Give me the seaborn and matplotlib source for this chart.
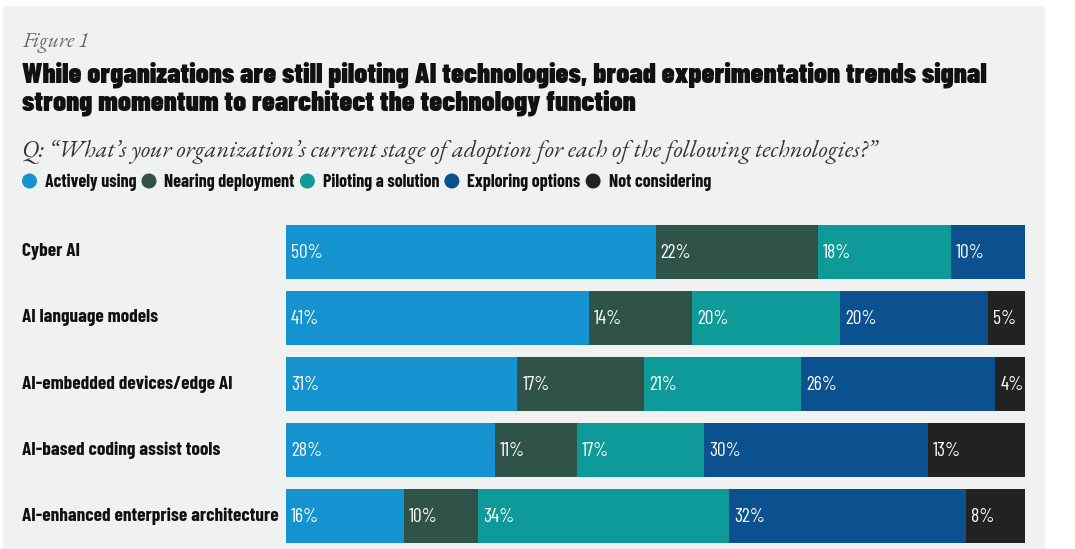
import pandas as pd
import seaborn as sns
import matplotlib.pyplot as plt
from matplotlib.patches import Rectangle, Ellipse
from matplotlib.font_manager import FontProperties
from matplotlib.transforms import blended_transform_factory

techs = ['Cyber AI', 'AI language models', 'AI-embedded devices/edge AI',
         'AI-based coding assist tools', 'AI-enhanced enterprise architecture']
stages = ['Actively using', 'Nearing deployment', 'Piloting a solution',
          'Exploring options', 'Not considering']
actively = [50, 41, 31, 28, 16]
nearing = [22, 14, 17, 11, 10]
piloting = [18, 20, 21, 17, 34]
exploring = [10, 20, 26, 30, 32]
not_considering = [0, 5, 4, 13, 8]
colors = ['#1593d0', '#2f5249', '#0e9a98', '#0b5190', '#222222']

df = pd.DataFrame({
    stages[0]: actively,
    stages[1]: nearing,
    stages[2]: piloting,
    stages[3]: exploring,
    stages[4]: not_considering,
}, index=techs)

# bars fill the full width, so scale each row to its own total
shares = df.div(df.sum(axis=1), axis=0) * 100
cum = shares.cumsum(axis=1)

sns.set_style('white')

heavy = FontProperties(family=['Barlow Condensed', 'DejaVu Sans'], weight=900, stretch='condensed')
bold = FontProperties(family=['Barlow Condensed', 'DejaVu Sans'], weight=700, stretch='condensed')
light = FontProperties(family=['Barlow Condensed', 'DejaVu Sans'], weight=400, stretch='condensed', size=14)
serif = FontProperties(family=['EB Garamond', 'Cormorant Garamond', 'Liberation Serif', 'DejaVu Serif'],
                       style='italic')

W, H = 1075, 549
fig = plt.figure(figsize=(W / 100, H / 100), dpi=100)
fig.patch.set_facecolor('white')
fig.patches.append(Rectangle((3 / W, 0), 1042 / W, 1 - 6 / H, transform=fig.transFigure,
                             facecolor='#f0f1f1', edgecolor='none', zorder=-10))
renderer = fig.canvas.get_renderer()


def fit(t, target):
    # scale the font so the text spans target pixels
    w = t.get_window_extent(renderer).width
    t.set_fontsize(t.get_fontsize() * target / w)
    return t


ax = fig.add_axes([286 / W, 0, 739 / W, 330 / H])
ax.patch.set_alpha(0)

for k in reversed(range(len(stages))):
    sns.barplot(x=cum[stages[k]].values, y=techs, color=colors[k], orient='h',
                width=0.82, saturation=1, linewidth=0, ax=ax)

for i, tech in enumerate(techs):
    for k, st in enumerate(stages):
        v = df.loc[tech, st]
        if v == 0:
            continue
        ax.annotate(f'{v}%', xy=(cum.loc[tech, st] - shares.loc[tech, st], i),
                    xytext=(5, -1), textcoords='offset pixels', ha='left', va='center',
                    color='white', fontproperties=light)

ax.set_xlim(0, 100)
ax.set_ylim(4.5, -0.5)
ax.axis('off')

tr = blended_transform_factory(fig.transFigure, ax.transData)
cat_texts = [ax.text(22 / W, i, tech, transform=tr, ha='left', va='center',
                     fontproperties=bold, fontsize=13, color='#111111')
             for i, tech in enumerate(techs)]
fit(cat_texts[-1], 254)
for t in cat_texts[:-1]:
    t.set_fontsize(cat_texts[-1].get_fontsize())

fit(fig.text(22 / W, 1 - 47 / H, 'Figure 1', ha='left', va='baseline', fontproperties=serif,
             fontsize=14, color='#6a6a6a'), 67)
t1 = fit(fig.text(22 / W, 1 - 82 / H,
                  'While organizations are still piloting AI technologies, broad experimentation trends signal',
                  ha='left', va='baseline', fontproperties=heavy, fontsize=20, color='#111111'), 965)
fig.text(22 / W, 1 - 111 / H, 'strong momentum to rearchitect the technology function',
         ha='left', va='baseline', fontproperties=heavy, fontsize=t1.get_fontsize(), color='#111111')
fit(fig.text(22 / W, 1 - 157 / H,
             'Q: \u201cWhat\u2019s your organization\u2019s current stage of adoption for each of the following technologies?\u201d',
             ha='left', va='baseline', fontproperties=serif, fontsize=16, color='#333333'), 856)

# legend: dot, then label, flowing left to right
leg_texts = [fig.text(0, 1 - 182 / H, s, ha='left', va='center', fontproperties=bold,
                      fontsize=12, color='#111111') for s in stages]
total = sum(t.get_window_extent(renderer).width for t in leg_texts)
for t in leg_texts:
    t.set_fontsize(t.get_fontsize() * 556 / total)
x = 29.5
for t, c in zip(leg_texts, colors):
    fig.patches.append(Ellipse((x / W, 1 - 181 / H), 15 / W, 15 / H, transform=fig.transFigure,
                               facecolor=c, edgecolor='none'))
    t.set_x((x + 15.5) / W)
    x += 15.5 + t.get_window_extent(renderer).width + 12.5

fig.savefig('out.png', dpi=100)
